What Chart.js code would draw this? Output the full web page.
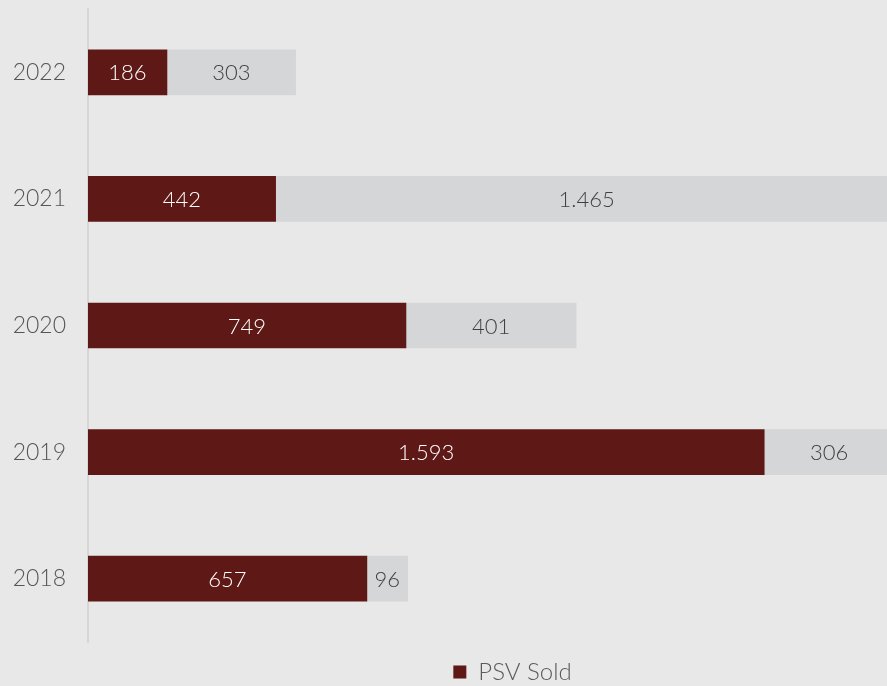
<!DOCTYPE html>
<html>
<head>
<meta charset="utf-8">
<script src="https://cdn.jsdelivr.net/npm/chart.js@4/dist/chart.umd.min.js"></script>
<style>
    html, body { margin: 0; padding: 0; background: #e8e8e8; overflow: hidden; }
    #wrap { width: 945px; height: 686px; }
</style>
</head>
<body>
<div id="wrap"><canvas id="psvChart" width="945" height="686"></canvas></div>
<script>
const years = ['2022', '2021', '2020', '2019', '2018'];
const psvSold = [186, 442, 749, 1593, 657];
const psvRemaining = [303, 1465, 401, 306, 96];

const fontFamily = "'Lato', 'Open Sans', 'DejaVu Sans', sans-serif";

// thousands separator with a dot, like 1.593
function fmt(v) {
    return String(v).replace(/\B(?=(\d{3})+(?!\d))/g, '.');
}

// writes each value in the middle of its bar segment
const barLabels = {
    id: 'barLabels',
    afterDatasetsDraw(chart) {
        const ctx = chart.ctx;
        ctx.save();
        ctx.font = '300 22px ' + fontFamily;
        ctx.textAlign = 'center';
        ctx.textBaseline = 'middle';
        chart.data.datasets.forEach((ds, i) => {
            const meta = chart.getDatasetMeta(i);
            meta.data.forEach((bar, j) => {
                const c = bar.getCenterPoint();
                ctx.fillStyle = ds.labelColor;
                ctx.fillText(fmt(ds.data[j]), c.x, c.y + 1);
            });
        });
        ctx.restore();
    }
};

const ctx = document.getElementById('psvChart').getContext('2d');
const psvChart = new Chart(ctx, {
    type: 'bar',
    data: {
        labels: years,
        datasets: [{
            label: 'PSV Sold',
            data: psvSold,
            backgroundColor: '#5e1816',
            labelColor: '#ffffff',
            barThickness: 45
        }, {
            label: 'Remaining',
            data: psvRemaining,
            backgroundColor: '#d5d6d8',
            labelColor: '#404040',
            barThickness: 45
        }]
    },
    plugins: [barLabels],
    options: {
        indexAxis: 'y',
        responsive: false,
        animation: false,
        layout: { padding: { top: 9, right: 8, left: 0, bottom: -8 } },
        plugins: {
            legend: {
                position: 'bottom',
                fullSize: false,
                labels: {
                    boxWidth: 13,
                    boxHeight: 13,
                    padding: 18,
                    color: '#5a5a5a',
                    font: { family: fontFamily, size: 24, weight: '300' },
                    filter: (item) => item.datasetIndex === 0
                }
            },
            tooltip: { enabled: false }
        },
        scales: {
            x: {
                stacked: true,
                display: false,
                min: 0,
                max: 2000
            },
            y: {
                stacked: true,
                afterFit: (scale) => {
                    scale.width = 88;
                    scale.paddingTop = 0;
                    scale.paddingBottom = 0;
                },
                grid: { display: false },
                border: { display: true, color: '#d6d6d6', width: 2 },
                ticks: {
                    color: '#555555',
                    padding: 14,
                    font: { family: fontFamily, size: 23, weight: '300' }
                }
            }
        }
    }
});
</script>
</body>
</html>
